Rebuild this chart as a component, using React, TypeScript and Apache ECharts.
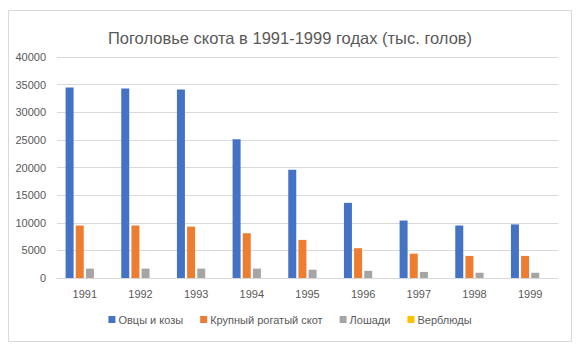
import React, { useEffect, useRef } from "react";
import * as echarts from "echarts";

const years = ["1991", "1992", "1993", "1994", "1995", "1996", "1997", "1998", "1999"];
const sheepGoats = [34500, 34300, 34100, 25100, 19600, 13600, 10400, 9500, 9700];
const cattle = [9500, 9500, 9300, 8100, 6900, 5400, 4400, 4000, 4000];
const horses = [1700, 1700, 1700, 1700, 1500, 1300, 1100, 950, 950];
const camels = [0, 0, 0, 0, 0, 0, 0, 0, 0];

const seriesNames = ["Овцы и козы", "Крупный рогатый скот", "Лошади", "Верблюды"];
const colors = ["#4472C4", "#ED7D31", "#A5A5A5", "#FFC000"];

const FONT = "Liberation Sans";

export default function App() {
  const ref = useRef<HTMLDivElement>(null);
  useEffect(() => {
    document.body.style.margin = "0";
    const chart = echarts.init(ref.current!, null, { renderer: "svg" });
    const data = [sheepGoats, cattle, horses, camels];
    chart.setOption({
      animation: false,
      backgroundColor: "#ffffff",
      color: colors,
      title: {
        text: "Поголовье скота в 1991-1999 годах (тыс. голов)",
        left: "center",
        top: 24,
        textStyle: { fontFamily: FONT, fontSize: 16.5, fontWeight: "normal", color: "#595959" },
      },
      graphic: [
        {
          type: "rect",
          shape: { x: 8.5, y: 10.5, width: 563, height: 331 },
          style: { fill: "none", stroke: "#d9d9d9", lineWidth: 1 },
          silent: true,
        },
      ],
      legend: {
        bottom: 25,
        left: "center",
        itemWidth: 7,
        itemHeight: 7,
        itemGap: 17,
        icon: "rect",
        textStyle: { fontFamily: FONT, fontSize: 11, color: "#595959", padding: [0, 0, 0, -2] },
        data: seriesNames,
      },
      grid: { left: 57, right: 22, top: 57, bottom: 77 },
      xAxis: {
        type: "category",
        data: years,
        axisTick: { show: false },
        axisLine: { lineStyle: { color: "#d9d9d9" } },
        axisLabel: { fontFamily: FONT, fontSize: 11, color: "#595959", margin: 10 },
      },
      yAxis: {
        type: "value",
        min: 0,
        max: 40000,
        interval: 5000,
        axisLine: { show: false },
        axisTick: { show: false },
        splitLine: { lineStyle: { color: "#d9d9d9" } },
        axisLabel: {
          fontFamily: FONT,
          fontSize: 11,
          color: "#595959",
          margin: 11,
          formatter: (v: number) => String(v),
        },
      },
      series: seriesNames.map((name, i) => ({
        name,
        type: "bar",
        data: data[i],
        barWidth: 8,
        barGap: "27%",
        itemStyle: { color: colors[i] },
      })),
    });
    return () => chart.dispose();
  }, []);
  return <div ref={ref} style={{ width: 580, height: 355 }} />;
}
